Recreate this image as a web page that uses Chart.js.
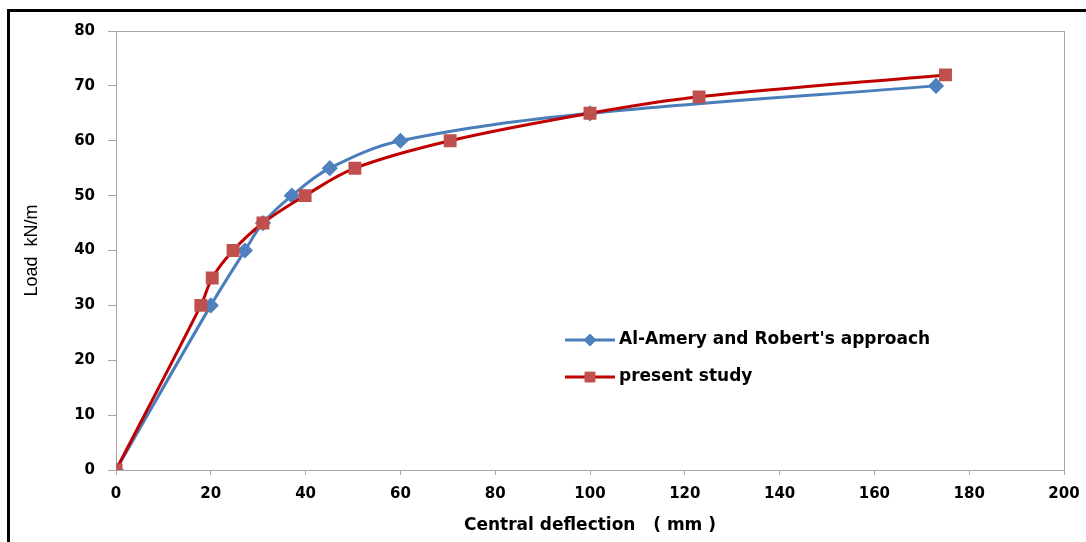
<!DOCTYPE html>
<html>
<head>
<meta charset="utf-8">
<script src="https://cdn.jsdelivr.net/npm/chart.js@4.4.0/dist/chart.umd.min.js"></script>
<style>
  html, body { margin: 0; padding: 0; background: #fff; }
  #wrap { position: relative; width: 1086px; height: 542px; overflow: hidden; }
  #frame { position: absolute; left: 7px; top: 9px; right: -10px; bottom: -10px;
           border-left: 3px solid #000; border-top: 3px solid #000; pointer-events: none; }
  canvas { position: absolute; left: 0; top: 0; }
</style>
</head>
<body>
<div id="wrap">
  <canvas id="loadChart" width="1086" height="542"></canvas>
  <div id="frame"></div>
</div>
<script>
// values: central deflection (mm) against load (kN/m)
const amDeflection = [0, 20, 27.2, 31, 37.1, 45.1, 60, 100, 173];
const amLoad = [0, 30, 40, 45, 50, 55, 60, 65, 70];
const studyDeflection = [0, 17.9, 20.3, 24.7, 31, 39.9, 50.4, 70.5, 100, 123, 175];
const studyLoad = [0, 30, 35, 40, 45, 50, 55, 60, 65, 68, 72];
const seriesNames = ["Al-Amery and Robert's approach", 'present study'];
const xTicks = [0, 20, 40, 60, 80, 100, 120, 140, 160, 180, 200];
const yTicks = [0, 10, 20, 30, 40, 50, 60, 70, 80];

const GREY = '#a6a6a6';
const tickFont = { family: 'DejaVu Sans', weight: 'bold', size: 15 };

function toPoints(xs, ys) {
  return xs.map((x, i) => ({ x: x, y: ys[i] }));
}

// grey box round the plot area (top and right edges)
const plotFrame = {
  id: 'plotFrame',
  beforeDatasetsDraw(chart) {
    const { ctx, chartArea: a } = chart;
    ctx.save();
    ctx.strokeStyle = GREY;
    ctx.lineWidth = 1;
    ctx.strokeRect(Math.round(a.left) + 0.5, Math.round(a.top) + 0.5,
      Math.round(a.width), Math.round(a.height));
    ctx.restore();
  }
};

// legend sitting inside the plot, like the Excel one
const insideLegend = {
  id: 'insideLegend',
  afterDatasetsDraw(chart, args, opts) {
    const { ctx, chartArea: a } = chart;
    const x0 = a.left + a.width * opts.x;
    let y = a.top + a.height * opts.y;
    ctx.save();
    chart.data.datasets.forEach(ds => {
      ctx.strokeStyle = ds.borderColor;
      ctx.lineWidth = 3;
      ctx.beginPath();
      ctx.moveTo(x0, y);
      ctx.lineTo(x0 + 50, y);
      ctx.stroke();
      ctx.fillStyle = ds.pointBackgroundColor;
      ctx.strokeStyle = ds.pointBorderColor;
      ctx.lineWidth = 1;
      Chart.helpers.drawPoint(ctx, { pointStyle: ds.pointStyle, radius: ds.pointRadius, borderWidth: 1 }, x0 + 25, y);
      ctx.fillStyle = '#000';
      ctx.font = 'bold 17px "DejaVu Sans"';
      ctx.textBaseline = 'middle';
      ctx.fillText(ds.label, x0 + 54, y);
      y += opts.gap;
    });
    ctx.restore();
  }
};

const ctx = document.getElementById('loadChart').getContext('2d');
new Chart(ctx, {
  type: 'line',
  data: {
    datasets: [
      {
        label: seriesNames[0],
        data: toPoints(amDeflection, amLoad),
        borderColor: '#4a7ebb',
        borderWidth: 3,
        pointStyle: 'rectRot',
        pointRadius: 6,
        pointBackgroundColor: '#4f81bd',
        pointBorderColor: '#4f81bd',
        tension: 0.35,
        order: 1
      },
      {
        label: seriesNames[1],
        data: toPoints(studyDeflection, studyLoad),
        borderColor: '#c00000',
        borderWidth: 3,
        pointStyle: 'rect',
        pointRadius: 7,
        pointBackgroundColor: '#c0504d',
        pointBorderColor: '#c0504d',
        tension: 0.35,
        order: 0
      }
    ]
  },
  options: {
    responsive: false,
    animation: false,
    devicePixelRatio: 1,
    layout: { padding: { left: 0, top: 31, right: 22, bottom: 0 } },
    plugins: {
      legend: { display: false },
      tooltip: { enabled: false },
      insideLegend: { x: 0.4736, y: 0.704, gap: 37 }
    },
    scales: {
      x: {
        type: 'linear',
        min: 0,
        max: 200,
        afterBuildTicks: scale => { scale.ticks = xTicks.map(v => ({ value: v })); },
        afterFit: scale => {
          scale.height = 72;
          scale.paddingLeft = 0;
          scale.paddingRight = 0;
        },
        ticks: { font: tickFont, color: '#000', padding: 10, maxRotation: 0 },
        grid: { drawOnChartArea: false, drawTicks: true, tickLength: 5, color: GREY },
        border: { color: GREY },
        title: {
          display: true,
          text: 'Central deflection   ( mm )',
          color: '#000',
          font: { family: 'DejaVu Sans', weight: 'bold', size: 17 },
          padding: { top: 0, bottom: 6 }
        }
      },
      y: {
        min: 0,
        max: 80,
        afterBuildTicks: scale => { scale.ticks = yTicks.map(v => ({ value: v })); },
        afterFit: scale => {
          scale.width = 116;
          scale.paddingTop = 0;
          scale.paddingBottom = 0;
        },
        ticks: { font: tickFont, color: '#000', padding: 13 },
        grid: { drawOnChartArea: false, drawTicks: true, tickLength: 8, color: GREY },
        border: { color: GREY },
        title: {
          display: true,
          text: 'Load  kN/m',
          color: '#000',
          font: { family: '"Liberation Sans", sans-serif', size: 18 },
          padding: { top: 21, bottom: 0 }
        }
      }
    }
  },
  plugins: [plotFrame, insideLegend]
});
</script>
</body>
</html>
